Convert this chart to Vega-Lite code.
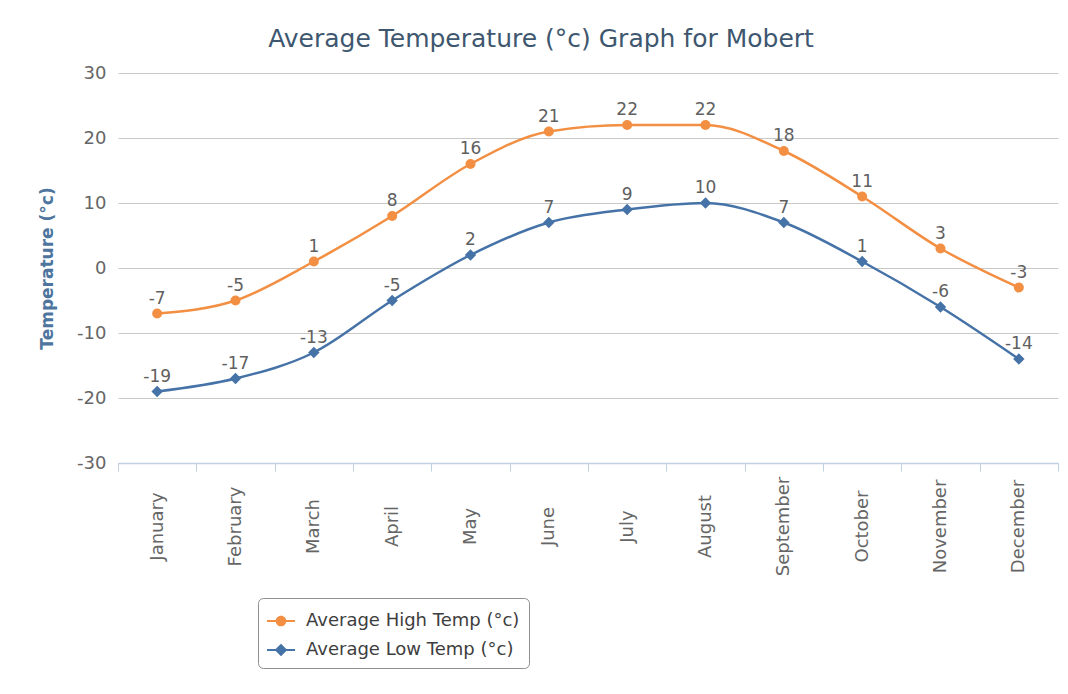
{
  "$schema": "https://vega.github.io/schema/vega-lite/v6.json",
  "width": 940,
  "height": 390,
  "autosize": {"type": "none"},
  "padding": {"left": 118, "top": 73, "right": 10, "bottom": 231},
  "background": "white",
  "title": {
    "text": "Average Temperature (°c) Graph for Mobert",
    "font": "DejaVu Sans",
    "fontSize": 25,
    "fontWeight": "normal",
    "color": "#3E576F",
    "anchor": "middle",
    "frame": "group",
    "dx": -47,
    "dy": 33,
    "baseline": "alphabetic",
    "offset": 25
  },
  "config": {
    "font": "DejaVu Sans",
    "view": {"stroke": null}
  },
  "data": {
    "values": [
      {"month": "January", "series": "Average High Temp (°c)", "temp": -7},
      {"month": "February", "series": "Average High Temp (°c)", "temp": -5},
      {"month": "March", "series": "Average High Temp (°c)", "temp": 1},
      {"month": "April", "series": "Average High Temp (°c)", "temp": 8},
      {"month": "May", "series": "Average High Temp (°c)", "temp": 16},
      {"month": "June", "series": "Average High Temp (°c)", "temp": 21},
      {"month": "July", "series": "Average High Temp (°c)", "temp": 22},
      {"month": "August", "series": "Average High Temp (°c)", "temp": 22},
      {"month": "September", "series": "Average High Temp (°c)", "temp": 18},
      {"month": "October", "series": "Average High Temp (°c)", "temp": 11},
      {"month": "November", "series": "Average High Temp (°c)", "temp": 3},
      {"month": "December", "series": "Average High Temp (°c)", "temp": -3},
      {"month": "January", "series": "Average Low Temp (°c)", "temp": -19},
      {"month": "February", "series": "Average Low Temp (°c)", "temp": -17},
      {"month": "March", "series": "Average Low Temp (°c)", "temp": -13},
      {"month": "April", "series": "Average Low Temp (°c)", "temp": -5},
      {"month": "May", "series": "Average Low Temp (°c)", "temp": 2},
      {"month": "June", "series": "Average Low Temp (°c)", "temp": 7},
      {"month": "July", "series": "Average Low Temp (°c)", "temp": 9},
      {"month": "August", "series": "Average Low Temp (°c)", "temp": 10},
      {"month": "September", "series": "Average Low Temp (°c)", "temp": 7},
      {"month": "October", "series": "Average Low Temp (°c)", "temp": 1},
      {"month": "November", "series": "Average Low Temp (°c)", "temp": -6},
      {"month": "December", "series": "Average Low Temp (°c)", "temp": -14}
    ]
  },
  "encoding": {
    "x": {
      "field": "month",
      "type": "nominal",
      "sort": ["January","February","March","April","May","June","July","August","September","October","November","December"],
      "scale": {"type": "band", "paddingInner": 0, "paddingOuter": 0},
      "axis": {
        "title": null,
        "labelAngle": 270,
        "labelAlign": "center",
        "labelBaseline": "middle",
        "labelPadding": 55,
        "labelFontSize": 18,
        "labelColor": "#666666",
        "labelOverlap": false,
        "labelBound": false,
        "tickBand": "extent",
        "tickSize": 8,
        "tickColor": "#C0D0E0",
        "domainColor": "#C0D0E0",
        "domainWidth": 1.5,
        "grid": false
      }
    },
    "y": {
      "field": "temp",
      "type": "quantitative",
      "scale": {"domain": [-30, 30], "nice": false, "zero": false},
      "axis": {
        "title": "Temperature (°c)",
        "titleFontSize": 17,
        "titleFontWeight": "bold",
        "titleColor": "#4D759E",
        "titlePadding": 20,
        "values": [-30, -20, -10, 0, 10, 20, 30],
        "labelExpr": "'' + datum.value",
        "labelFontSize": 18,
        "labelColor": "#666666",
        "labelPadding": 12,
        "domain": false,
        "ticks": false,
        "grid": true,
        "gridColor": "#C8C8C8",
        "gridWidth": 1
      }
    },
    "color": {
      "field": "series",
      "type": "nominal",
      "scale": {
        "domain": ["Average High Temp (°c)", "Average Low Temp (°c)"],
        "range": ["#F28F43", "#4572A7"]
      },
      "legend": {
        "title": null,
        "orient": "none",
        "legendX": 140,
        "legendY": 525,
        "direction": "vertical",
        "labelFontSize": 18,
        "labelColor": "#3E3E3E",
        "labelOffset": 11,
        "labelLimit": 400,
        "symbolSize": 784,
        "symbolStrokeWidth": 0,
        "rowPadding": 6,
        "padding": 9,
        "strokeColor": "#909090",
        "cornerRadius": 5,
        "fillColor": "white",
        "encode": {
          "symbols": {
            "update": {
              "shape": {"signal": "datum.value === 'Average High Temp (°c)' ? 'M-1,-0.08H1V0.08H-1Z M-0.38,0A0.38,0.38 0 1,1 0.38,0A0.38,0.38 0 1,1 -0.38,0Z' : 'M-1,-0.08H1V0.08H-1Z M0,-0.45L0.45,0L0,0.45L-0.45,0Z'"},
              "size": {"value": 784},
              "fill": {"scale": "color", "field": "value"},
              "stroke": {"value": "transparent"}
            }
          }
        }
      }
    }
  },
  "layer": [
    {
      "mark": {"type": "line", "interpolate": "monotone", "strokeWidth": 2.5}
    },
    {
      "transform": [{"filter": "datum.series === 'Average High Temp (°c)'"}],
      "mark": {"type": "point", "filled": true, "opacity": 1, "shape": "circle", "size": 100}
    },
    {
      "transform": [{"filter": "datum.series === 'Average Low Temp (°c)'"}],
      "mark": {"type": "point", "filled": true, "opacity": 1, "shape": "diamond", "size": 130}
    },
    {
      "mark": {"type": "text", "dy": -15, "fontSize": 17, "color": "#606060"},
      "encoding": {
        "text": {"field": "temp", "type": "nominal"},
        "color": {"value": "#606060"}
      }
    }
  ]
}
